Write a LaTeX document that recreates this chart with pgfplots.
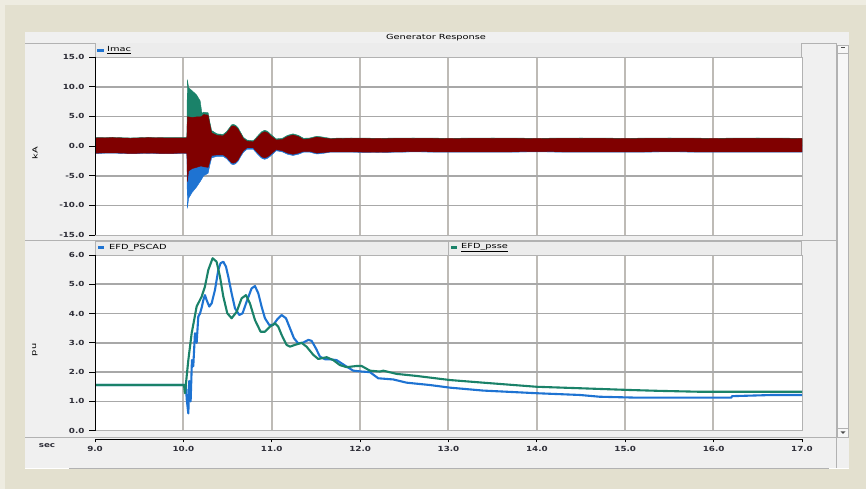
\documentclass[border=0pt]{standalone}
\usepackage{pgfplots}
\pgfplotsset{compat=1.18}
\usepackage{pgfplotstable}
\usepackage{fontspec}
\newfontfamily\uifont[FakeStretch=1.4]{DejaVu Sans}
\newfontfamily\tickfont[FakeStretch=1.25]{DejaVu Sans}

\definecolor{frame}{RGB}{227,224,207}
\definecolor{frameedge}{RGB}{238,236,225}
\definecolor{panel}{RGB}{240,240,240}
\definecolor{strip}{RGB}{236,236,236}
\definecolor{sepline}{RGB}{178,178,178}
\definecolor{hgrid}{RGB}{168,168,168}
\definecolor{vgrid}{RGB}{190,187,182}
\definecolor{phA}{RGB}{128,0,0}
\definecolor{phB}{RGB}{26,130,105}
\definecolor{phC}{RGB}{30,115,210}
\definecolor{ticktext}{RGB}{45,45,55}

% Imac envelopes: upper/lower edge of the three phase-current traces (kA)
\pgfplotstableread{
t      rhi   rlo    ghi    blo
9.00   1.35  -1.20  1.40   -1.25
9.20   1.40  -1.15  1.45   -1.20
9.40   1.30  -1.25  1.35   -1.30
9.60   1.40  -1.20  1.45   -1.25
9.80   1.35  -1.25  1.40   -1.30
10.04  1.35  -1.20  1.40   -1.25
10.045 4.90  -6.00  11.20  -10.50
10.06  4.90  -4.20  9.80   -8.80
10.10  4.80  -3.80  9.30   -7.80
10.15  4.90  -3.60  8.60   -6.90
10.19  4.90  -3.40  7.60   -6.00
10.21  5.00  -3.40  5.50   -5.50
10.23  5.30  -3.50  5.70   -5.00
10.28  5.20  -3.60  5.60   -4.60
10.30  3.60  -2.60  4.00   -3.20
10.32  2.20  -1.60  2.60   -2.00
10.38  1.80  -1.50  2.05   -1.75
10.45  1.70  -1.50  1.95   -1.75
10.49  2.20  -1.90  2.45   -2.15
10.52  2.80  -2.40  3.05   -2.65
10.545 3.30  -2.80  3.55   -3.05
10.565 3.40  -2.90  3.65   -3.15
10.59  3.25  -2.75  3.50   -3.00
10.62  2.80  -2.30  3.05   -2.55
10.65  2.00  -1.50  2.25   -1.75
10.68  1.20  -0.80  1.45   -1.05
10.72  0.80  -0.30  1.00   -0.55
10.79  0.70  -0.30  0.90   -0.55
10.82  1.10  -0.80  1.35   -1.05
10.85  1.60  -1.30  1.85   -1.55
10.89  2.20  -1.85  2.45   -2.10
10.92  2.40  -2.00  2.65   -2.25
10.95  2.25  -1.85  2.50   -2.10
10.99  1.70  -1.40  1.95   -1.65
11.05  1.00  -0.60  1.20   -0.80
11.12  1.10  -0.80  1.30   -1.00
11.18  1.60  -1.20  1.80   -1.40
11.24  1.85  -1.40  2.05   -1.60
11.30  1.60  -1.20  1.80   -1.40
11.36  1.10  -0.90  1.30   -1.05
11.43  1.20  -0.90  1.35   -1.05
11.51  1.50  -1.20  1.65   -1.35
11.58  1.35  -1.10  1.50   -1.25
11.66  1.20  -1.00  1.30   -1.05
11.90  1.30  -1.00  1.35   -1.05
12.20  1.25  -1.05  1.30   -1.10
12.60  1.30  -0.95  1.35   -1.00
13.00  1.25  -1.00  1.30   -1.05
13.50  1.30  -1.00  1.35   -1.05
14.00  1.25  -0.95  1.30   -1.00
14.50  1.30  -1.00  1.35   -1.05
15.00  1.25  -1.00  1.30   -1.05
15.50  1.30  -0.95  1.35   -1.00
16.00  1.25  -1.00  1.30   -1.05
16.50  1.30  -1.00  1.35   -1.05
17.00  1.25  -1.00  1.30   -1.05
}\imac

% Field voltage, PSCAD model (pu)
\pgfplotstableread{
t      v
9.000  1.56
10.030 1.56
10.037 1.10
10.056 0.59
10.067 1.70
10.082 1.00
10.097 2.41
10.112 2.20
10.131 3.33
10.150 3.00
10.169 3.90
10.188 4.00
10.207 4.20
10.226 4.46
10.244 4.63
10.263 4.46
10.293 4.24
10.320 4.35
10.357 4.80
10.395 5.49
10.421 5.72
10.452 5.77
10.482 5.60
10.508 5.26
10.546 4.69
10.584 4.18
10.633 3.95
10.670 4.01
10.716 4.41
10.772 4.86
10.810 4.94
10.848 4.69
10.885 4.24
10.923 3.84
10.972 3.61
11.017 3.61
11.062 3.80
11.112 3.95
11.161 3.84
11.206 3.50
11.251 3.16
11.300 2.98
11.357 3.01
11.413 3.10
11.451 3.07
11.500 2.81
11.545 2.53
11.602 2.44
11.658 2.44
11.734 2.41
11.790 2.30
11.847 2.19
11.922 2.05
12.017 2.02
12.111 2.00
12.205 1.79
12.375 1.75
12.526 1.64
12.789 1.56
13.016 1.47
13.393 1.37
13.997 1.28
14.486 1.22
14.710 1.16
15.110 1.13
16.200 1.13
16.210 1.18
16.670 1.22
17.000 1.22
}\efdpscad

% Field voltage, PSS/E model (pu)
\pgfplotstableread{
t      v
9.000  1.56
10.007 1.56
10.018 1.28
10.056 2.41
10.094 3.33
10.150 4.24
10.207 4.58
10.244 4.92
10.282 5.49
10.331 5.89
10.376 5.77
10.414 5.26
10.452 4.58
10.497 4.01
10.546 3.84
10.603 4.06
10.659 4.52
10.708 4.63
10.753 4.35
10.810 3.78
10.874 3.38
10.923 3.38
10.980 3.55
11.036 3.67
11.074 3.55
11.112 3.27
11.168 2.93
11.206 2.87
11.262 2.93
11.338 3.00
11.394 2.87
11.470 2.59
11.526 2.45
11.621 2.51
11.696 2.41
11.772 2.24
11.847 2.17
11.960 2.21
12.017 2.21
12.111 2.05
12.224 2.02
12.262 2.05
12.413 1.94
12.639 1.87
13.016 1.73
13.393 1.64
13.997 1.50
14.486 1.45
15.052 1.39
15.390 1.36
15.840 1.33
17.000 1.33
}\efdpsse

\pgfplotsset{
  panel/.style={
    scale only axis, width=707bp, anchor=south west,
    xmin=9, xmax=17, xtick={9,...,17}, xticklabels={},
    axis line style={sepline, line width=0.8bp},
    ytick pos=left, tick align=outside, major tick length=6bp,
    y tick style={black, line width=0.8bp}, x tick style={draw=none},
    yticklabel style={font=\tickfont\bfseries\fontsize{7bp}{8bp}\selectfont,
      text=ticktext, xshift=-1bp,
      /pgf/number format/fixed, /pgf/number format/fixed zerofill,
      /pgf/number format/precision=1, /pgf/number format/assume math mode=true},
  },
}
\tikzset{ui/.style={font=\uifont\fontsize{7bp}{8bp}\selectfont, inner sep=0pt}}

\begin{document}
\begin{tikzpicture}
\useasboundingbox (0,0) rectangle (866bp,489bp);

% window chrome, in screen units (y downwards)
\begin{scope}[x=1bp, y=-1bp, shift={(0bp,489bp)}]
  \fill[frameedge] (0,0) rectangle (866,489);
  \fill[frame] (5,5) rectangle (866,489);
  \fill[panel] (25,31.7) rectangle (849.3,468.3);
  \draw[white, line width=0.8bp] (25,468.3) -- (849.3,468.3);
  \draw[sepline, line width=0.8bp] (69,468.3) -- (829,468.3);
  \draw[sepline, line width=0.8bp] (25,43.3) -- (836.7,43.3);
  \draw[sepline, line width=0.8bp] (25,240) -- (836.7,240);
  \draw[sepline, line width=0.8bp] (25,437.7) -- (836.7,437.7);
  \draw[sepline, line width=0.8bp] (836.7,43.3) -- (836.7,468.3);
  % plot areas and their grids (1 s apart; 5 kA and 1 pu apart)
  \fill[white] (95,57.3) rectangle (801.7,235);
  \fill[white] (95,255) rectangle (801.7,430.7);
  \foreach \k in {1,...,7} {
    \draw[vgrid, line width=1.8bp] ({95+88.3375*\k},57.3) -- ({95+88.3375*\k},235);
    \draw[vgrid, line width=1.8bp] ({95+88.3375*\k},255) -- ({95+88.3375*\k},430.7);
  }
  \foreach \k in {1,...,5} {
    \draw[hgrid, line width=1.6bp] (95,{57.3+29.6667*\k}) -- (801.7,{57.3+29.6667*\k});
    \draw[hgrid, line width=1.6bp] (95,{430.7-29.2833*\k}) -- (801.7,{430.7-29.2833*\k});
  }
  % legend strips
  \fill[strip] (95,43.3) rectangle (801.7,57.3);
  \draw[sepline, line width=0.8bp] (95,57.3) -- (95,43.3) (801.7,43.3) -- (801.7,57.3);
  \fill[strip] (95,241.7) rectangle (801.7,255);
  \draw[sepline, line width=0.8bp] (95,255) -- (95,241.7) -- (801.7,241.7) -- (801.7,255);
  \draw[sepline, line width=0.8bp] (448,241.7) -- (448,255);
  % scroll bar
  \fill[white!97!black] (837.5,45) rectangle (848.5,437);
  \draw[sepline, line width=0.6bp] (837.5,45) rectangle (848.5,437);
  \draw[sepline, line width=0.6bp] (837.5,53) -- (848.5,53) (837.5,428) -- (848.5,428);
  \fill[black!70] (841,46.8) rectangle (845,47.8);
  \fill[black!70] (840.5,431.5) -- (845.5,431.5) -- (843,433.8) -- cycle;
  % title and legends
  \node[ui] at (436,37.5) {Generator Response};
  \fill[phC] (97.3,49.3) rectangle (104,52.5);
  \node[ui, anchor=west] at (107,50.3) {\underline{Imac}};
  \fill[phC] (98,245.7) rectangle (104,249);
  \node[ui, anchor=west] at (109,247.5) {EFD\_PSCAD};
  \fill[phB] (450.7,245.7) rectangle (456.7,249);
  \node[ui, anchor=west] at (461,247.5) {\underline{EFD\_psse}};
  % axis names
  \node[ui, rotate=90] at (35,153) {kA};
  \node[ui, rotate=90] at (35,350) {pu};
  \node[font=\tickfont\bfseries\fontsize{7bp}{8bp}\selectfont, text=ticktext, inner sep=0pt] at (47,445.5) {sec};
\end{scope}

% phase currents: each band is filled from its upper edge and its lower edge to zero
\begin{axis}[panel, at={(95bp,254bp)}, height=178bp,
  ymin=-15, ymax=15, ytick={-15,-10,...,15}]
  \addplot[fill=phB, draw=phB, line width=0.4bp] table[x=t, y=ghi] {\imac} \closedcycle;
  \addplot[fill=phC, draw=phC, line width=0.4bp] table[x=t, y=blo] {\imac} \closedcycle;
  \addplot[fill=phA, draw=phA, line width=0.4bp] table[x=t, y=rhi] {\imac} \closedcycle;
  \addplot[fill=phA, draw=phA, line width=0.4bp] table[x=t, y=rlo] {\imac} \closedcycle;
\end{axis}

% field voltages
\begin{axis}[panel, at={(95bp,58.3bp)}, height=175.7bp,
  ymin=0, ymax=6, ytick={0,...,6}]
  \addplot[phC, line width=2.1bp, line join=round] table[x=t, y=v] {\efdpscad};
  \addplot[phB, line width=2.1bp, line join=round] table[x=t, y=v] {\efdpsse};
\end{axis}

% shared time scale
\begin{axis}[scale only axis, width=707bp, height=1bp, anchor=south west,
  at={(95bp,49.7bp)}, xmin=9, xmax=17, ymin=0, ymax=1,
  axis x line=bottom, axis y line=none, x axis line style={-, black, line width=0.9bp},
  xtick={9,...,17}, tick align=outside, major tick length=3bp,
  x tick style={black, line width=0.8bp},
  xticklabel style={font=\tickfont\bfseries\fontsize{7bp}{8bp}\selectfont, text=ticktext,
    /pgf/number format/fixed, /pgf/number format/fixed zerofill,
    /pgf/number format/precision=1, /pgf/number format/assume math mode=true}]
  \addplot[draw=none] coordinates {(9,0.5) (17,0.5)};
\end{axis}

% value axes (left edges of the plot areas)
\begin{scope}[x=1bp, y=-1bp, shift={(0bp,489bp)}]
  \draw[black, line width=1bp] (95,57.3) -- (95,235);
  \draw[black, line width=1bp] (95,255) -- (95,430.7);
\end{scope}
\end{tikzpicture}
\end{document}
